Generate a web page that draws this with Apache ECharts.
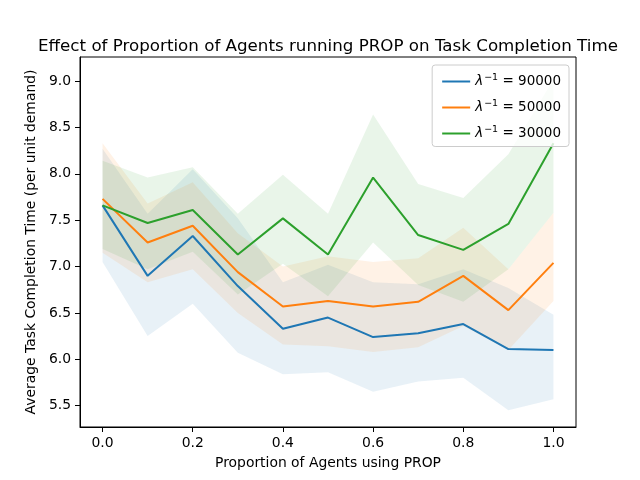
<!DOCTYPE html>
<html>
<head>
<meta charset="utf-8">
<script src="https://cdn.jsdelivr.net/npm/echarts@6/dist/echarts.min.js"></script>
<style>
  html, body { margin: 0; padding: 0; background: #fff; }
  #chart { width: 640px; height: 480px; }
</style>
</head>
<body>
<div id="chart"></div>
<script>
// proportion of agents using PROP
var props = [0.0, 0.1, 0.2, 0.3, 0.4, 0.5, 0.6, 0.7, 0.8, 0.9, 1.0];

// lambda^-1 = 90000
var blueMean = [7.66, 6.90, 7.33, 6.79, 6.33, 6.45, 6.24, 6.28, 6.38, 6.11, 6.10];
var blueLo   = [7.05, 6.25, 6.60, 6.07, 5.84, 5.86, 5.65, 5.76, 5.80, 5.45, 5.57];
var blueHi   = [8.27, 7.57, 8.05, 7.52, 6.83, 7.02, 6.83, 6.81, 6.97, 6.77, 6.48];

// lambda^-1 = 50000
var orangeMean = [7.73, 7.26, 7.44, 6.94, 6.57, 6.63, 6.57, 6.62, 6.90, 6.53, 7.04];
var orangeLo   = [7.15, 6.83, 6.97, 6.50, 6.16, 6.14, 6.08, 6.13, 6.36, 6.10, 6.63];
var orangeHi   = [8.33, 7.68, 7.91, 7.36, 7.00, 7.11, 7.05, 7.09, 7.42, 6.97, 7.58];

// lambda^-1 = 30000
var greenMean = [7.66, 7.47, 7.61, 7.13, 7.52, 7.13, 7.96, 7.34, 7.18, 7.46, 8.33];
var greenLo   = [7.19, 6.97, 7.16, 6.70, 7.03, 6.68, 7.26, 6.80, 6.62, 6.97, 7.58];
var greenHi   = [8.14, 7.96, 8.07, 7.57, 7.99, 7.57, 8.64, 7.89, 7.74, 8.21, 9.02];

var xTicks = [0.0, 0.2, 0.4, 0.6, 0.8, 1.0];
var yTicks = [5.5, 6.0, 6.5, 7.0, 7.5, 8.0, 8.5, 9.0];

var font = "DejaVu Sans";
var chart = echarts.init(document.getElementById('chart'));

function band(name, lo, hi, fill) {
    return {
        type: 'custom',
        name: name,
        z: 1,
        silent: true,
        data: props.map(function (x, i) { return [x, lo[i], hi[i]]; }),
        encode: { x: 0, y: [1, 2] },
        renderItem: function (params, api) {
            if (params.dataIndex !== 0) return;
            var pts = [];
            for (var i = 0; i < props.length; i++) pts.push(api.coord([props[i], lo[i]]));
            for (var j = props.length - 1; j >= 0; j--) pts.push(api.coord([props[j], hi[j]]));
            return { type: 'polygon', shape: { points: pts }, style: { fill: fill } };
        }
    };
}

function line(name, vals, color) {
    return {
        type: 'line',
        name: name,
        z: 3,
        data: props.map(function (x, i) { return [x, vals[i]]; }),
        symbol: 'none',
        lineStyle: { color: color, width: 2 },
        itemStyle: { color: color }
    };
}

var option = {
    animation: false,
    title: {
        text: 'Effect of Proportion of Agents running PROP on Task Completion Time',
        left: 323, top: 33, textAlign: 'center',
        textStyle: { fontFamily: font, fontSize: 16.7, fontWeight: 'normal', color: '#000' }
    },
    grid: { left: 80, right: 64, top: 57, bottom: 53, show: true, borderColor: '#000', borderWidth: 1 },
    legend: {
        data: ['90000', '50000', '30000'],
        orient: 'vertical',
        right: 71, top: 65,
        icon: 'rect', itemWidth: 28, itemHeight: 2, itemGap: 10.5,
        padding: [8, 8, 6, 10],
        borderColor: '#cccccc', borderWidth: 1, borderRadius: 3,
        backgroundColor: 'rgba(255,255,255,0.8)',
        formatter: function (name) { return '{a|λ}{b|−1}{c| = ' + name + '}'; },
        textStyle: {
            fontFamily: font, fontSize: 13.5, color: '#000',
            rich: {
                a: { fontFamily: font, fontSize: 13.5, fontStyle: 'italic', color: '#000' },
                b: { fontFamily: font, fontSize: 9.5, color: '#000', verticalAlign: 'top', padding: [0, 0, 7, 1] },
                c: { fontFamily: font, fontSize: 13.5, color: '#000' }
            }
        }
    },
    xAxis: {
        type: 'value', min: -0.05, max: 1.05,
        name: 'Proportion of Agents using PROP', nameLocation: 'middle', nameGap: 29,
        nameTextStyle: { fontFamily: font, fontSize: 13.9, color: '#000' },
        axisLine: { show: true, onZero: false, lineStyle: { color: '#000' } },
        axisTick: { show: true, inside: false, length: 5, lineStyle: { color: '#000' }, customValues: xTicks },
        axisLabel: {
            fontFamily: font, fontSize: 13.9, color: '#000', margin: 9, customValues: xTicks,
            formatter: function (v) { return v.toFixed(1); }
        },
        splitLine: { show: false }
    },
    yAxis: {
        type: 'value', min: 5.27, max: 9.26,
        name: 'Average Task Completion Time (per unit demand)', nameLocation: 'middle', nameGap: 33,
        nameTextStyle: { fontFamily: font, fontSize: 13.9, color: '#000' },
        axisLine: { show: true, onZero: false, lineStyle: { color: '#000' } },
        axisTick: { show: true, inside: false, length: 5, lineStyle: { color: '#000' }, customValues: yTicks },
        axisLabel: {
            fontFamily: font, fontSize: 13.9, color: '#000', margin: 9, customValues: yTicks,
            formatter: function (v) { return v.toFixed(1); }
        },
        splitLine: { show: false }
    },
    series: [
        band('blueBand', blueLo, blueHi, 'rgba(31,119,180,0.1)'),
        line('90000', blueMean, '#1f77b4'),
        band('orangeBand', orangeLo, orangeHi, 'rgba(255,127,14,0.1)'),
        line('50000', orangeMean, '#ff7f0e'),
        band('greenBand', greenLo, greenHi, 'rgba(44,160,44,0.1)'),
        line('30000', greenMean, '#2ca02c')
    ]
};
chart.setOption(option);
</script>
</body>
</html>
